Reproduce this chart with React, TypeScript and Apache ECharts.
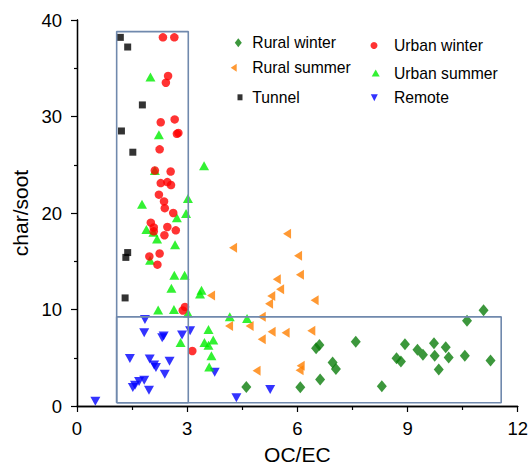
import React, { useEffect, useRef } from "react";
import * as echarts from "echarts";

const xTicks = [0, 3, 6, 9, 12];
const yTicks = [0, 10, 20, 30, 40];

const ruralWinter: number[][] = [
  [4.61, 1.98], [6.08, 1.95], [6.62, 2.74], [6.51, 5.98], [6.6, 6.33], [6.96, 4.5], [7.05, 3.83],
  [7.59, 6.67], [8.3, 2.05], [8.7, 4.96], [8.82, 4.6], [8.93, 6.4], [9.27, 5.82], [9.42, 5.3],
  [9.72, 6.5], [9.74, 5.2], [9.85, 3.77], [10.04, 6.09], [10.12, 5.03], [10.56, 5.2], [10.62, 8.83],
  [11.07, 9.92], [11.26, 4.72],
];
const ruralSummer: number[][] = [
  [3.65, 11.45], [4.14, 8.3], [4.7, 8.3], [5.03, 9.24], [5.23, 10.6], [5.29, 11.4], [5.53, 12.1],
  [6.47, 10.95], [5.3, 7.7], [5.03, 6.91], [5.68, 7.6], [6.38, 7.8], [4.89, 3.66], [6.09, 4.18],
  [6.06, 3.7], [5.72, 17.86], [4.25, 16.4], [6.02, 15.57], [6.07, 13.6], [5.44, 13.14],
];
const tunnel: number[][] = [
  [1.18, 38.2], [1.38, 37.2], [1.78, 31.2], [1.21, 28.5], [1.52, 26.3], [1.38, 15.9], [1.33, 15.4],
  [1.31, 11.2],
];
const urbanWinter: number[][] = [
  [2.34, 38.2], [2.65, 38.2], [2.48, 34.2], [2.42, 33.5], [2.66, 29.7], [2.28, 29.4], [2.76, 28.3],
  [2.72, 28.2], [2.25, 26.6], [2.12, 24.4], [2.55, 24.3], [2.28, 23.1], [2.46, 23.2], [2.56, 22.9],
  [2.23, 21.9], [2.37, 21.2], [2.39, 20.5], [2.62, 20.0], [2.01, 19.0], [2.09, 18.5], [2.09, 18.1],
  [2.46, 18.55], [2.69, 18.2], [2.38, 17.7], [2.25, 15.8], [1.97, 15.5], [2.19, 14.65], [2.88, 9.9],
  [2.94, 10.27], [3.14, 5.7],
];
const urbanSummer: number[][] = [
  [2.0, 34.1], [2.23, 28.1], [3.46, 24.9], [2.12, 24.4], [3.02, 21.5], [1.77, 20.9], [2.97, 19.95],
  [2.72, 19.5], [1.89, 18.3], [2.08, 18.0], [2.18, 17.3], [2.67, 16.7], [1.99, 15.1], [2.65, 13.55],
  [2.93, 13.55], [2.57, 12.2], [3.39, 12.0], [3.35, 11.6], [2.21, 9.96], [2.64, 10.0], [3.02, 9.65],
  [4.16, 9.24], [4.63, 9.07], [3.58, 7.94], [2.82, 6.57], [3.47, 6.57], [3.58, 6.3], [3.71, 6.85],
  [3.66, 5.2], [3.6, 4.04],
];
const remote: number[][] = [
  [1.85, 8.97], [1.83, 7.6], [2.32, 7.08], [2.36, 7.26], [2.86, 7.36], [3.08, 7.8], [3.75, 3.5],
  [1.44, 4.93], [1.98, 4.86], [2.1, 4.24], [2.15, 4.0], [2.52, 4.65], [2.39, 3.28], [1.83, 2.67],
  [1.69, 2.54], [1.58, 2.16], [1.52, 1.92], [1.96, 1.64], [0.5, 0.5], [4.34, 0.85], [5.26, 1.71],
];
// regions: [xMin, yMin, xMax, yMax]
const boxes: number[][] = [
  [1.08, 0.34, 3.03, 38.8],
  [1.08, 0.34, 11.55, 9.24],
];

const FONT = "'Liberation Sans', Arial, Helvetica, sans-serif";
const LEFT_TRI = "path://M8,0L8,10L0,5Z";
const DOWN_TRI = "path://M0,0L10,0L5,9Z";

const C = {
  rw: "#0b7d0b",
  rs: "#ff8000",
  tu: "#000000",
  uw: "#ff0000",
  us: "#00ee00",
  re: "#0000ff",
  box: "#7089ad",
};

function legendItem(
  name: string,
  icon: string,
  w: number,
  h: number,
  cx: number,
  cy: number,
  textX: number
) {
  const left = cx - w / 2;
  const pad = textX - (left + w + 5);
  return {
    show: true,
    orient: "vertical",
    left,
    top: cy - 9,
    padding: 0,
    itemWidth: w,
    itemHeight: h,
    itemGap: 0,
    selectedMode: false,
    data: [{ name, icon }],
    textStyle: {
      fontFamily: FONT,
      fontSize: 15.7,
      color: "#000",
      lineHeight: 18,
      padding: [0, 0, 0, pad],
    },
  };
}

export default function App() {
  const ref = useRef<HTMLDivElement>(null);
  useEffect(() => {
    if (!ref.current) return;
    const chart = echarts.init(ref.current, null, { renderer: "svg" });

    const axisLine = { show: true, lineStyle: { color: "#000", width: 1.3 } };
    const boxSeries = boxes.map((b, i) => ({
      type: "line",
      name: "box" + i,
      data: [
        [b[0], b[1]],
        [b[2], b[1]],
        [b[2], b[3]],
        [b[0], b[3]],
        [b[0], b[1]],
      ],
      showSymbol: false,
      symbol: "none",
      lineStyle: { color: C.box, width: 1.6 },
      silent: true,
      z: 5,
    }));

    chart.setOption({
      animation: false,
      backgroundColor: "#fff",
      textStyle: { fontFamily: FONT },
      grid: { left: 77, right: 11, top: 20, bottom: 60, containLabel: false },
      legend: [
        legendItem("Rural winter", "diamond", 7, 9, 238.3, 42.7, 252.3),
        legendItem("Rural summer", "path://M6,0L6,8L0,4Z", 6, 8, 233.7, 67.7, 252.3),
        legendItem("Tunnel", "rect", 5, 6, 240, 97.3, 252.3),
        legendItem("Urban winter", "circle", 7, 7, 374, 45.5, 394),
        legendItem("Urban summer", "triangle", 8, 7, 375.7, 73, 394),
        legendItem("Remote", "path://M0,0L7,0L3.5,7Z", 7, 7, 374.3, 97.7, 394),
      ],
      xAxis: [
        {
          type: "value",
          position: "bottom",
          min: xTicks[0],
          max: xTicks[xTicks.length - 1],
          interval: xTicks[1] - xTicks[0],
          name: "OC/EC",
          nameLocation: "middle",
          nameGap: 38,
          nameTextStyle: { fontFamily: FONT, fontSize: 21, color: "#000" },
          axisLine,
          axisTick: { show: true, length: 6, lineStyle: { color: "#000", width: 1.2 } },
          minorTick: { show: true, splitNumber: 2, length: 4, lineStyle: { color: "#000", width: 1.2 } },
          splitLine: { show: false },
          axisLabel: { fontFamily: FONT, fontSize: 18.5, color: "#000", margin: 13 },
        },
        {
          type: "value",
          position: "top",
          min: xTicks[0],
          max: xTicks[xTicks.length - 1],
          interval: xTicks[1] - xTicks[0],
          axisLine,
          axisTick: { show: true, inside: true, length: 4, lineStyle: { color: "#000", width: 1 } },
          minorTick: { show: true, splitNumber: 2, length: 3, lineStyle: { color: "#000", width: 1 } },
          splitLine: { show: false },
          axisLabel: { show: false },
        },
      ],
      yAxis: [
        {
          type: "value",
          position: "left",
          min: yTicks[0],
          max: yTicks[yTicks.length - 1],
          interval: yTicks[1] - yTicks[0],
          name: "char/soot",
          nameLocation: "middle",
          nameGap: 44,
          nameTextStyle: { fontFamily: FONT, fontSize: 21, color: "#000" },
          axisLine,
          axisTick: { show: true, length: 6, lineStyle: { color: "#000", width: 1.2 } },
          minorTick: { show: true, splitNumber: 2, length: 3, lineStyle: { color: "#000", width: 1.2 } },
          splitLine: { show: false },
          axisLabel: { fontFamily: FONT, fontSize: 18.5, color: "#000", margin: 15 },
        },
        {
          type: "value",
          position: "right",
          min: yTicks[0],
          max: yTicks[yTicks.length - 1],
          interval: yTicks[1] - yTicks[0],
          axisLine,
          axisTick: { show: true, inside: true, length: 4, lineStyle: { color: "#000", width: 1 } },
          minorTick: { show: true, splitNumber: 2, length: 3, lineStyle: { color: "#000", width: 1 } },
          splitLine: { show: false },
          axisLabel: { show: false },
        },
      ],
      series: [
        {
          type: "scatter",
          name: "Rural winter",
          data: ruralWinter,
          symbol: "diamond",
          symbolSize: [10, 12],
          itemStyle: { color: C.rw },
        },
        {
          type: "scatter",
          name: "Rural summer",
          data: ruralSummer,
          symbol: LEFT_TRI,
          symbolSize: [8, 10],
          itemStyle: { color: C.rs },
        },
        {
          type: "scatter",
          name: "Remote",
          data: remote,
          symbol: DOWN_TRI,
          symbolSize: [10, 9],
          itemStyle: { color: C.re },
        },
        {
          type: "scatter",
          name: "Urban summer",
          data: urbanSummer,
          symbol: "triangle",
          symbolSize: [10, 9],
          itemStyle: { color: C.us },
        },
        {
          type: "scatter",
          name: "Urban winter",
          data: urbanWinter,
          symbol: "circle",
          symbolSize: 8.5,
          itemStyle: { color: C.uw },
        },
        {
          type: "scatter",
          name: "Tunnel",
          data: tunnel,
          symbol: "rect",
          symbolSize: 7,
          itemStyle: { color: C.tu },
        },
        ...boxSeries,
      ],
    });
    return () => chart.dispose();
  }, []);

  return (
    <div
      ref={ref}
      style={{ position: "fixed", left: 0, top: 0, width: 531, height: 470, background: "#fff" }}
    />
  );
}
